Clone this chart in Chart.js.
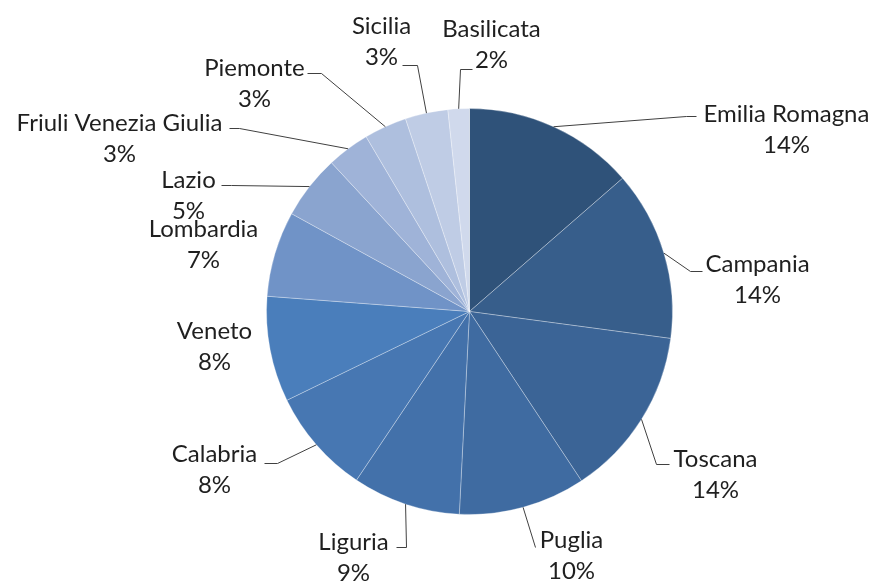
<!DOCTYPE html>
<html>
<head>
<meta charset="utf-8">
<script src="https://cdn.jsdelivr.net/npm/chart.js@4/dist/chart.umd.min.js"></script>
<style>
  html, body { margin: 0; padding: 0; background: #fff; }
  #wrap { width: 878px; height: 585px; }
</style>
</head>
<body>
<div id="wrap"><canvas id="pieChart"></canvas></div>
<script>
// Regions, clockwise from the top
const regions = ['Emilia Romagna', 'Campania', 'Toscana', 'Puglia', 'Liguria', 'Calabria', 'Veneto',
    'Lombardia', 'Lazio', 'Friuli Venezia Giulia', 'Piemonte', 'Sicilia', 'Basilicata'];

// Share of each region (%)
const shares = [13.6, 13.52, 13.58, 10.1, 8.6, 8.4, 8.4, 6.8, 5.1, 3.4, 3.4, 3.4, 1.7];

const sliceColors = ['#2f5279', '#375e8b', '#3b6496', '#3f6ba1', '#4371aa', '#4777b2', '#4a7ebb',
    '#7093c7', '#8aa4cf', '#9fb3d8', '#aebfde', '#bfcce5', '#d0d9ec'];

// Label placement, offsets from the pie centre (name line centre, leader end, elbow dx)
const labelLayout = [
    { dx: 317, dy: -197, ex: 227, ey: -195, elbow: -10 },
    { dx: 288, dy: -47, ex: 233, ey: -40, elbow: -12 },
    { dx: 246, dy: 148, ex: 200, ey: 153, elbow: -13 },
    { dx: 102, dy: 229, ex: 66, ey: 236, elbow: 0 },
    { dx: -116, dy: 231, ex: -73, ey: 236, elbow: 10 },
    { dx: -255, dy: 143, ex: -205, ey: 152, elbow: 13 },
    { dx: -255, dy: 20, ex: null },
    { dx: -266, dy: -82, ex: null },
    { dx: -281, dy: -131, ex: -248, ey: -126, elbow: 10 },
    { dx: -350, dy: -188, ex: -240, ey: -183, elbow: 10 },
    { dx: -215, dy: -243, ex: -162, ey: -238, elbow: 14 },
    { dx: -88, dy: -285, ex: -67, ey: -246, elbow: 15 },
    { dx: 22, dy: -282, ex: 3, ey: -242, elbow: -12 }
];

const total = shares.reduce((a, b) => a + b, 0);

// Draws the name / percent labels and the leader lines
const outsideLabels = {
    id: 'outsideLabels',
    afterDraw(chart) {
        const ctx = chart.ctx;
        const arcs = chart.getDatasetMeta(0).data;
        ctx.save();
        ctx.font = '24px Lato';
        ctx.fillStyle = '#1f1f1f';
        ctx.textAlign = 'center';
        ctx.textBaseline = 'middle';
        arcs.forEach((arc, i) => {
            const p = arc.getProps(['x', 'y', 'startAngle', 'endAngle', 'outerRadius']);
            const lay = labelLayout[i];
            const pct = Math.round(shares[i] / total * 100) + '%';
            ctx.fillText(regions[i], p.x + lay.dx, p.y + lay.dy);
            ctx.fillText(pct, p.x + lay.dx, p.y + lay.dy + 31);

            if (lay.ex === null) return;
            const mid = (p.startAngle + p.endAngle) / 2;
            const sx = p.x + Math.cos(mid) * p.outerRadius;
            const sy = p.y + Math.sin(mid) * p.outerRadius;
            const endX = p.x + lay.ex;
            const endY = p.y + lay.ey;
            ctx.beginPath();
            ctx.strokeStyle = '#404040';
            ctx.lineWidth = 1;
            ctx.moveTo(sx, sy);
            ctx.lineTo(endX + lay.elbow, endY);
            ctx.lineTo(endX, endY);
            ctx.stroke();
        });
        ctx.restore();
    }
};

const ctx = document.getElementById('pieChart').getContext('2d');
const pieChart = new Chart(ctx, {
    type: 'pie',
    data: {
        labels: regions,
        datasets: [{
            data: shares,
            backgroundColor: sliceColors,
            borderColor: 'rgba(255,255,255,0.3)',
            borderWidth: 1,
            hoverOffset: 0,
            hoverBorderWidth: 1
        }]
    },
    options: {
        responsive: true,
        maintainAspectRatio: false,
        animation: false,
        layout: {
            padding: { top: 108, bottom: 70, left: 266, right: 205 }
        },
        plugins: {
            legend: { display: false },
            tooltip: { enabled: false }
        }
    },
    plugins: [outsideLabels]
});
</script>
</body>
</html>
